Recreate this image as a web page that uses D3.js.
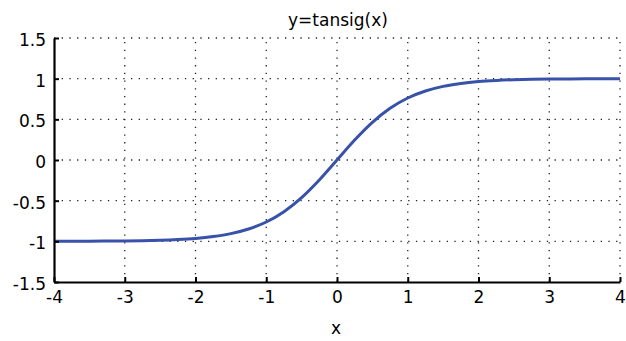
<!DOCTYPE html>
<html><head><meta charset="utf-8">
<script src="https://cdn.jsdelivr.net/npm/d3@7"></script>
<style>body{margin:0;background:#fff}svg{display:block}text{font-family:"DejaVu Sans",sans-serif;fill:#000}</style>
</head><body><svg id="c" width="626" height="341"></svg>
<script>
const xs = [-4,-3.5,-3,-2.75,-2.5,-2.25,-2,-1.75,-1.5,-1.25,-1,-0.75,-0.5,-0.25,0,0.25,0.5,0.75,1,1.25,1.5,1.75,2,2.25,2.5,2.75,3,3.5,4];
const ys = [-0.999,-0.998,-0.995,-0.992,-0.987,-0.978,-0.964,-0.941,-0.905,-0.848,-0.762,-0.635,-0.462,-0.245,0,0.245,0.462,0.635,0.762,0.848,0.905,0.941,0.964,0.978,0.987,0.992,0.995,0.998,0.999];
const xTicks = [-4,-3,-2,-1,0,1,2,3,4];
const yTicks = [-1.5,-1,-0.5,0,0.5,1,1.5];
const title = "y=tansig(x)", xLabel = "x";

const svg = d3.select("#c");
const L=54, R=620, T=38, B=282;
const x = d3.scaleLinear().domain([-4,4]).range([L,R]);
const y = d3.scaleLinear().domain([-1.5,1.5]).range([B,T]);

const grid = svg.append("g").attr("stroke","#222").attr("stroke-width",1.3).attr("stroke-dasharray","1.3,6.4");
xTicks.forEach(t=>{ if(t>-4) grid.append("line").attr("x1",x(t)).attr("x2",x(t)).attr("y1",B).attr("y2",T); });
yTicks.forEach(t=>{ if(t>-1.5) grid.append("line").attr("x1",L).attr("x2",R).attr("y1",y(t)).attr("y2",y(t)); });

const line = d3.line().x(d=>x(d[0])).y(d=>y(d[1])).curve(d3.curveMonotoneX);
svg.append("path").datum(xs.map((v,i)=>[v,ys[i]])).attr("d",line)
  .attr("fill","none").attr("stroke","#3752a8").attr("stroke-width",3);

const xa = svg.append("g").attr("transform",`translate(0,${B})`)
  .call(d3.axisBottom(x).tickValues(xTicks).tickSizeInner(-5).tickSizeOuter(0).tickPadding(10).tickFormat(d3.format("")));
const ya = svg.append("g").attr("transform",`translate(${L},0)`)
  .call(d3.axisLeft(y).tickValues(yTicks).tickSizeInner(-5).tickSizeOuter(0).tickPadding(8).tickFormat(d3.format("")));
[xa,ya].forEach(a=>{
  a.select(".domain").attr("stroke","#000").attr("stroke-width",2.2);
  a.selectAll(".tick line").attr("stroke","#000").attr("stroke-width",2);
  a.selectAll("text").attr("font-size",17).attr("font-family","DejaVu Sans, sans-serif").attr("fill","#000");
});
ya.selectAll("text").text(d=>d<0?"-"+Math.abs(d):d).attr("dy","0.45em");
xa.selectAll("text").text(d=>d<0?"-"+Math.abs(d):d).attr("dy","0.62em");

svg.append("text").attr("x",338).attr("y",26).attr("text-anchor","middle").attr("font-size",17).text(title);
svg.append("text").attr("x",336).attr("y",334).attr("text-anchor","middle").attr("font-size",17).text(xLabel);
</script></body></html>
